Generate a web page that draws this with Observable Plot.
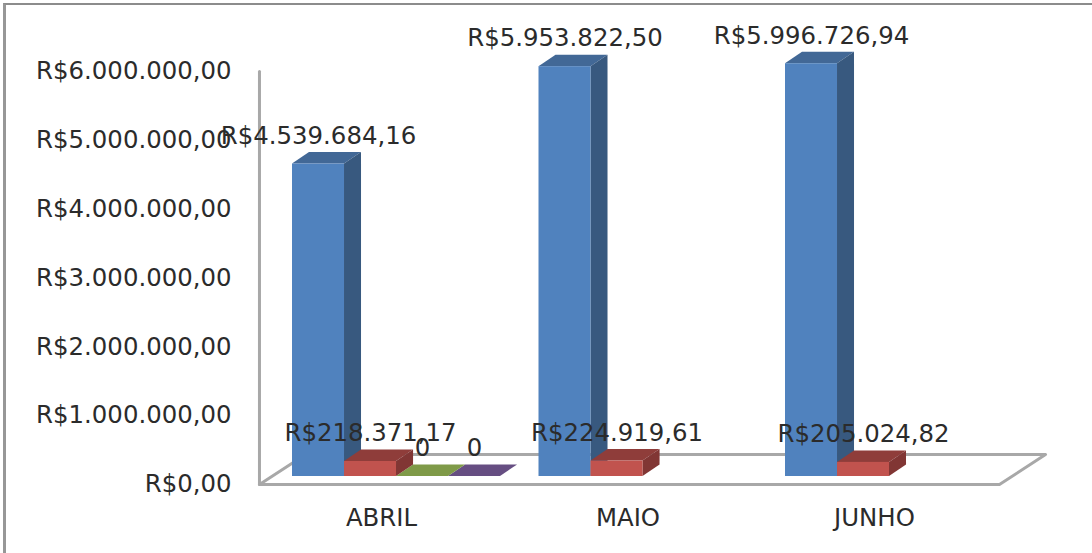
<!DOCTYPE html>
<html><head><meta charset="utf-8">
<script src="https://cdn.jsdelivr.net/npm/d3@7"></script>
<script src="https://cdn.jsdelivr.net/npm/@observablehq/plot@0.6"></script>
<style>
html,body{margin:0;padding:0;background:#fff;overflow:hidden}
#wrap{position:relative;width:1092px;height:553px;overflow:hidden}
#frame{position:absolute;left:3px;top:3px;width:1087px;height:560px;border-left:3px solid #979797;border-top:2px solid #8c8c8c;border-right:1px solid #eeeeee;pointer-events:none}
#wrap svg{position:absolute;left:0;top:0;overflow:visible}
</style></head><body>
<div id="wrap"><div id="frame"></div></div>
<script>
const months = ["ABRIL", "MAIO", "JUNHO"];
const seriesA = [4539684.16, 5953822.50, 5996726.94];
const seriesB = [218371.17, 224919.61, 205024.82];
const seriesC = [0, null, null];
const seriesD = [0, null, null];
const yTicks = [0, 1000000, 2000000, 3000000, 4000000, 5000000, 6000000];

const palette = [
  {front:"#5082be", side:"#38597f", top:"#426896"},
  {front:"#c1534e", side:"#813634", top:"#8f3d3a"},
  {front:"#7f9a48", side:"#66803a", top:"#7f9a48"},
  {front:"#664e82", side:"#523f69", top:"#664e82"}
];

const barW = 0.211, depthX = 0.069, depthY = 167000;
const floorDrop = 116000, floorBack = 320000;
const floorL = -0.134, floorR = 2.868;

const brl = d3.formatLocale({decimal:",", thousands:".", grouping:[3], currency:["R$",""]}).format("$,.2f");
const all = [seriesA, seriesB, seriesC, seriesD];

const bars = all.flatMap((vals, s) => vals.map((v, m) => v === null ? null : ({
  x: m + s * barW, v, s, c: palette[s], label: v === 0 ? "0" : brl(v)
})).filter(Boolean));

// Paint order: tall series first, then the flat ones, then the second series on top of them.
const paintOrder = [0, 3, 2, 1];
const painted = paintOrder.flatMap(s => bars.filter(b => b.s === s));

const barMarks = painted.flatMap(b => [
  Plot.area([
    {y:b.v, x1:b.x, x2:b.x + barW},
    {y:b.v + depthY, x1:b.x + depthX, x2:b.x + barW + depthX}
  ], {y1:"y", x1:"x1", x2:"x2", fill:b.c.top}),
  Plot.area([
    {x:b.x + barW, y1:0, y2:b.v},
    {x:b.x + barW + depthX, y1:depthY, y2:b.v + depthY}
  ], {x1:"x", y1:"y1", y2:"y2", fill:b.c.side}),
  Plot.rect([b], {x1:d=>d.x, x2:d=>d.x + barW, y1:0, y2:d=>d.v, fill:b.c.front})
]);

const floor = [
  [floorL, -floorDrop], [floorR, -floorDrop], [floorR + 0.187, floorBack],
  [floorL + 0.187, floorBack], [floorL, -floorDrop]
];

const chart = Plot.plot({
  width:1092, height:553,
  marginLeft:231, marginRight:0, marginTop:0, marginBottom:35,
  style:{fontFamily:"'DejaVu Sans'", fontSize:"24.4px", background:"transparent", color:"#2b2b2b"},
  x:{domain:[0,2], range:[292,785], axis:null},
  y:{domain:[0,6000000], range:[476,63], axis:null},
  marks:[
    Plot.line(floor, {x:d=>d[0], y:d=>d[1], stroke:"#a8a8a8", strokeWidth:3}),
    Plot.line([[floorL,-floorDrop],[floorL,6000000-floorDrop]], {x:d=>d[0], y:d=>d[1], stroke:"#a8a8a8", strokeWidth:3}),
    ...barMarks,
    Plot.axisY({ticks:yTicks, tickSize:0, tickPadding:0, dy:8, tickFormat:brl, label:null, fill:"#2b2b2b"}),
    Plot.text(months, {x:(d,i)=>i + 0.361, frameAnchor:"bottom", lineAnchor:"middle", text:d=>d, fill:"#2b2b2b"}),
    Plot.text(bars, {x:d=>d.x + barW/2, y:"v", text:"label", dy:-28, fill:"#2b2b2b"})
  ]
});
document.getElementById("wrap").appendChild(chart);
</script>
</body></html>
